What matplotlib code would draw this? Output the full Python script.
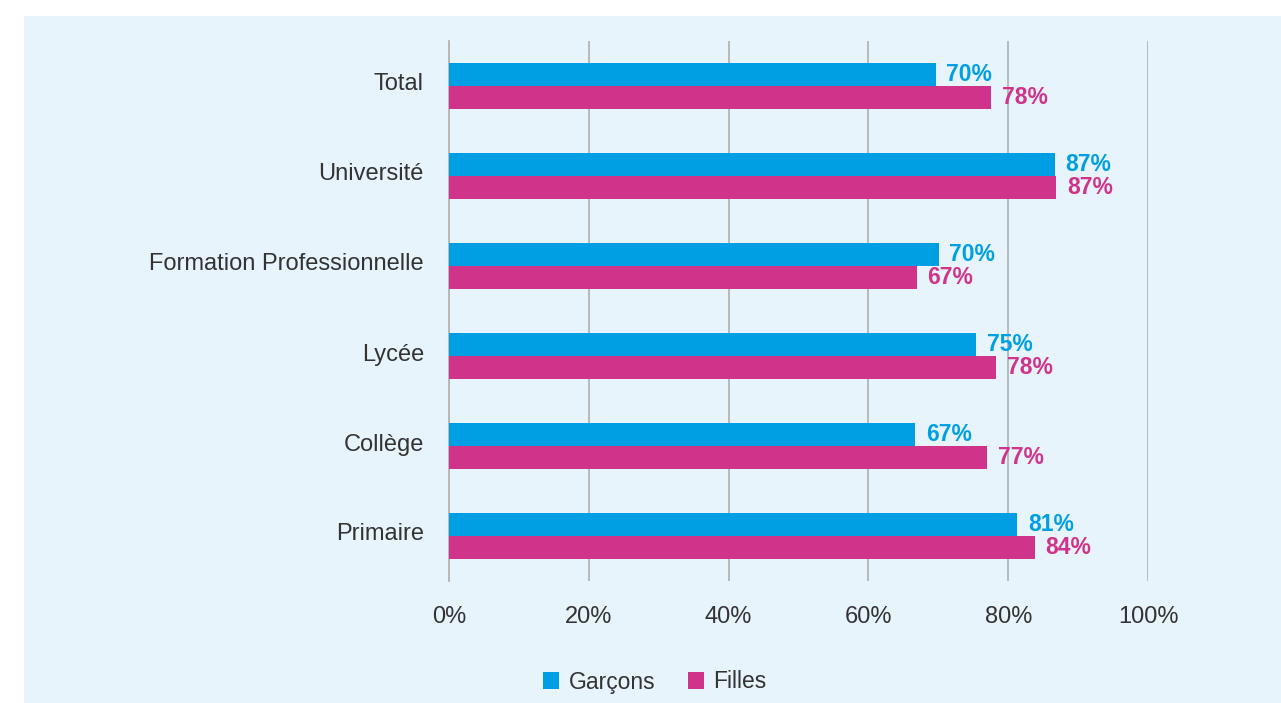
import numpy as np
import matplotlib.pyplot as plt
import matplotlib.transforms as mtransforms
from matplotlib.patches import Rectangle

plt.rcParams['font.family'] = ['Liberation Sans', 'DejaVu Sans']

# Data
categories = ['Total', 'Université', 'Formation Professionnelle', 'Lycée', 'Collège', 'Primaire']
garcons = [69.6, 86.7, 70.1, 75.4, 66.7, 81.3]
filles = [77.6, 86.9, 66.9, 78.3, 77.0, 83.8]
x_ticks = [0, 20, 40, 60, 80, 100]
series_names = ['Garçons', 'Filles']

blue = '#009FE3'
pink = '#D0338A'
bg = '#E8F4FC'
text_col = '#333333'

fig = plt.figure(figsize=(12.81, 7.03), dpi=100)
fig.patch.set_facecolor('white')
panel = Rectangle((24 / 1281, 0), 1 - 24 / 1281, 1 - 16 / 703,
                  transform=fig.transFigure, facecolor=bg, edgecolor='none')
panel.set_zorder(-10)
fig.add_artist(panel)

ax = fig.add_axes([449 / 1281, 1 - 581 / 703, 699 / 1281, 540 / 703])
ax.set_facecolor('none')
ax.set_zorder(1)

y = np.arange(len(categories))
h = 0.256
ax.barh(y - h / 2, garcons, height=h, color=blue, label=series_names[0], zorder=3)
ax.barh(y + h / 2, filles, height=h, color=pink, label=series_names[1], zorder=3)

for i in range(len(categories)):
    ax.text(garcons[i] + 1.5, y[i] - h / 2, f"{garcons[i]:.0f}%", color=blue,
            fontsize=16.5, fontweight='bold', va='center', ha='left')
    ax.text(filles[i] + 1.5, y[i] + h / 2, f"{filles[i]:.0f}%", color=pink,
            fontsize=16.5, fontweight='bold', va='center', ha='left')

ax.set_xlim(0, 100)
ax.set_ylim(5.5, -0.5)
ax.set_xticks(x_ticks)
ax.set_xticklabels([f"{t}%" for t in x_ticks], fontsize=17, color=text_col)
ax.set_yticks(y)
ax.set_yticklabels(categories, fontsize=17, color=text_col)
ax.tick_params(axis='y', length=0, pad=18)
ax.tick_params(axis='x', length=0, pad=18)

# category labels sit a little above the centre of their pair of bars
shift = mtransforms.ScaledTranslation(0, 4 / 100, fig.dpi_scale_trans)
for lbl in ax.get_yticklabels():
    lbl.set_transform(lbl.get_transform() + shift)

ax.grid(axis='x', color='#B5B5B5', linewidth=1.3, zorder=1)
for s in ['top', 'right', 'bottom']:
    ax.spines[s].set_visible(False)
ax.spines['left'].set_color('#B5B5B5')
ax.spines['left'].set_linewidth(1.3)

fig.legend(loc='center', bbox_to_anchor=(655 / 1281, 1 - 682 / 703), ncol=2,
           frameon=False, fontsize=16.5, handlelength=0.7, handleheight=0.7,
           columnspacing=1.45, handletextpad=0.4, labelcolor=text_col)

fig.savefig('out.png', dpi=100)
